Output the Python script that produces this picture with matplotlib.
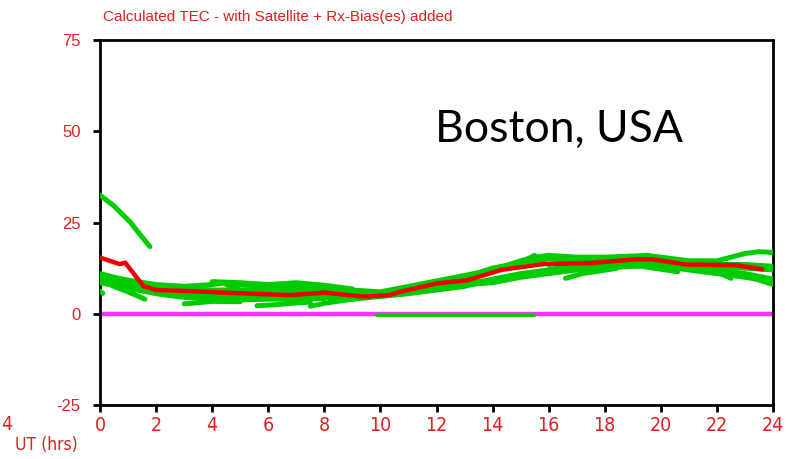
import numpy as np
import matplotlib
matplotlib.use("Agg")
from matplotlib import pyplot as plt

ROJO = "#e02020"
VERDE = "#00cc00"
MAGENTA = "#ff33ff"

# satellite arcs (UT hours, TEC)
arc01_t = [0.0, 0.5, 1.07, 1.5, 1.78]
arc01_v = [32.5, 29.5, 25.2, 21.0, 18.4]
arc02_t = [0.0, 0.5, 1.0, 2.0, 3.0, 4.0, 4.5, 5.0, 6.0, 7.0, 8.0, 9.0, 10.0]
arc02_v = [11.0, 10.0, 9.2, 8.0, 7.5, 8.0, 8.5, 8.0, 7.5, 7.5, 7.0, 6.0, 5.5]
arc03_t = [0.0, 1.0, 2.0, 3.0, 4.0, 5.0, 6.0, 7.0, 8.0, 9.0, 9.7]
arc03_v = [10.0, 8.0, 6.8, 6.0, 5.5, 5.0, 4.8, 5.0, 4.5, 4.0, 4.5]
arc04_t = [0.0, 0.5, 1.0, 1.6]
arc04_v = [9.4, 7.5, 6.0, 4.0]
arc05_t = [0.0, 1.0, 2.0, 3.0, 4.0, 5.0, 6.0, 7.0, 8.0]
arc05_v = [8.5, 7.0, 5.5, 4.5, 4.0, 3.8, 4.0, 4.0, 4.2]
arc06_t = [3.0, 4.0, 5.0]
arc06_v = [2.7, 3.4, 3.3]
arc07_t = [5.6, 6.3, 7.0, 7.5]
arc07_v = [2.2, 2.5, 3.0, 3.2]
arc08_t = [7.5, 8.1, 9.0, 10.0, 11.0, 12.0, 13.0, 14.0, 15.0, 16.0]
arc08_v = [2.1, 3.0, 4.0, 5.3, 6.5, 7.5, 8.3, 9.3, 10.5, 11.5]
arc09_t = [4.5, 5.0, 6.0, 7.0, 8.0, 9.0, 10.0, 11.0, 12.0, 13.0, 14.0, 15.0, 16.0,
           17.0, 18.0, 19.0, 20.0, 21.0, 22.0, 23.0, 24.0]
arc09_v = [8.0, 6.5, 6.8, 7.2, 7.5, 6.5, 6.0, 7.5, 9.0, 10.5, 12.0, 14.0, 15.0,
           15.0, 15.0, 15.5, 15.0, 14.0, 13.0, 12.5, 12.0]
arc10_t = [9.8, 11.0, 12.0, 13.0, 14.0, 15.0, 16.0, 17.0, 18.0, 19.0, 20.0, 21.0, 22.0, 23.0, 24.0]
arc10_v = [4.6, 5.5, 6.5, 7.5, 9.5, 11.0, 12.0, 12.5, 13.0, 14.0, 14.5, 13.5, 12.5, 10.5, 8.0]
arc11_t = [14.2, 15.0, 15.5, 16.0, 17.0, 18.0, 19.0, 19.5, 20.0, 21.0, 22.0, 22.5, 23.0, 23.5, 24.0]
arc11_v = [12.5, 14.5, 15.5, 16.0, 15.5, 15.5, 15.8, 16.0, 15.5, 14.5, 14.5, 15.5, 16.5, 17.0, 16.8]
arc12_t = [15.5, 16.0, 17.0, 18.0, 19.0, 20.0, 21.0, 22.0, 23.0, 24.0]
arc12_v = [10.5, 12.0, 13.5, 14.0, 14.5, 14.0, 13.0, 12.0, 11.0, 9.5]
arc13_t = [16.6, 17.2, 18.4]
arc13_v = [9.7, 11.0, 12.4]
arc14_t = [19.4, 20.0, 20.6]
arc14_v = [12.9, 12.2, 11.5]
arc15_t = [21.5, 22.0, 22.5]
arc15_v = [12.9, 11.5, 9.7]
arc16_t = [16.0, 17.0, 18.0, 19.0, 20.0, 21.0, 22.0, 23.0, 24.0]
arc16_v = [13.5, 14.5, 14.8, 15.3, 15.0, 14.0, 13.5, 13.5, 13.0]
arc17_t = [10.0, 11.0, 12.0, 13.0, 14.0, 15.0, 16.0, 17.0, 18.0, 19.0, 20.0, 21.0, 22.0, 23.0, 24.0]
arc17_v = [4.8, 6.0, 7.0, 8.0, 8.5, 10.0, 11.0, 12.0, 12.5, 13.0, 13.0, 12.0, 11.0, 10.0, 8.8]
arc18_t = [0.0, 0.1]
arc18_v = [6.2, 5.6]
arc20_t = [2.0, 3.0, 4.0, 5.0, 6.0, 7.0, 8.0, 9.0]
arc20_v = [7.0, 7.0, 6.5, 6.5, 6.0, 6.0, 6.5, 5.5]
arc21_t = [4.0, 5.0, 6.0, 7.0, 8.0, 9.0]
arc21_v = [8.8, 8.5, 8.0, 8.5, 7.8, 6.8]
arc22_t = [11.0, 12.0, 13.0, 14.0, 15.0, 15.5]
arc22_v = [6.5, 8.5, 10.0, 12.5, 14.0, 16.0]
arc23_t = [2.5, 3.5, 4.5, 5.5, 6.5, 7.5, 8.5]
arc23_v = [5.0, 4.8, 5.2, 5.0, 5.5, 5.2, 4.8]

# arc lying on the zero line
arc19_t = [9.8, 15.5]
arc19_v = [-0.3, -0.3]

arcos = [(arc01_t, arc01_v), (arc02_t, arc02_v), (arc03_t, arc03_v), (arc04_t, arc04_v),
         (arc05_t, arc05_v), (arc06_t, arc06_v), (arc07_t, arc07_v), (arc08_t, arc08_v),
         (arc09_t, arc09_v), (arc10_t, arc10_v), (arc11_t, arc11_v), (arc12_t, arc12_v),
         (arc13_t, arc13_v), (arc14_t, arc14_v), (arc15_t, arc15_v), (arc16_t, arc16_v),
         (arc17_t, arc17_v), (arc18_t, arc18_v), (arc20_t, arc20_v),
         (arc21_t, arc21_v), (arc22_t, arc22_v), (arc23_t, arc23_v)]

# median TEC
med_t = [0.0, 0.7, 0.9, 1.2, 1.55, 2.0, 3.2, 5.0, 6.8, 8.0, 9.4, 10.3, 10.7, 12.0,
         13.1, 14.1, 14.3, 15.8, 17.5, 19.1, 19.7, 20.9, 22.7, 23.6]
med_v = [15.4, 13.6, 14.0, 11.0, 7.6, 6.5, 6.2, 5.6, 5.1, 5.8, 4.7, 5.1, 6.0, 8.3,
         9.2, 11.5, 12.0, 13.6, 13.9, 14.9, 14.9, 13.5, 13.3, 12.2]

cero_t = [0, 24]
cero_v = [0, 0]

xticks = np.arange(0, 25, 2)
yticks = [-25, 0, 25, 50, 75]

fig = plt.figure(figsize=(7.9, 4.59), dpi=100)
ax = fig.add_axes([0.1266, 0.1176, 0.8519, 0.7953])

ax.plot(cero_t, cero_v, color=MAGENTA, lw=3.2, solid_capstyle="butt", zorder=2)
ax.plot(arc19_t, arc19_v, color=VERDE, lw=2.2, solid_capstyle="butt", zorder=2.5)
for t, v in arcos:
    ax.plot(t, v, color=VERDE, lw=3.6, solid_capstyle="round", zorder=3)
ax.plot(med_t, med_v, color="#ee0000", lw=3.2, zorder=4)

ax.set_xlim(0, 24)
ax.set_ylim(-25, 75)
ax.set_xticks(xticks)
ax.set_yticks(yticks)
ax.set_xticklabels([str(x) for x in xticks], fontfamily="DejaVu Sans", fontstretch="condensed",
                   fontsize=14, color=ROJO)
ax.set_yticklabels([str(y) for y in yticks], fontfamily="Liberation Sans", fontsize=12, color=ROJO)
ax.tick_params(axis="both", direction="out", length=5, width=2, color="black")
ax.tick_params(axis="x", pad=3)
ax.tick_params(axis="y", pad=9)
for s in ax.spines.values():
    s.set_linewidth(2)
    s.set_color("black")

fig.text(103 / 790, 1 - 17 / 459, "Calculated TEC - with Satellite + Rx-Bias(es) added",
         fontfamily="Liberation Sans", fontsize=11, color=ROJO, va="center", ha="left")
fig.text(15 / 790, 1 - 445 / 459, "UT (hrs)", fontfamily="DejaVu Sans", fontstretch="condensed",
         fontsize=12.5, color=ROJO, va="center", ha="left")
fig.text(1 / 790, 1 - 424 / 459, "4", fontfamily="DejaVu Sans", fontstretch="condensed",
         fontsize=14, color=ROJO, va="center", ha="left")
ax.text(435 / 790, 1 - 129 / 459, "Boston, USA", transform=fig.transFigure,
        fontfamily="Lato", fontsize=32, color="black", va="center", ha="left")

plt.savefig("out.png", dpi=100)
